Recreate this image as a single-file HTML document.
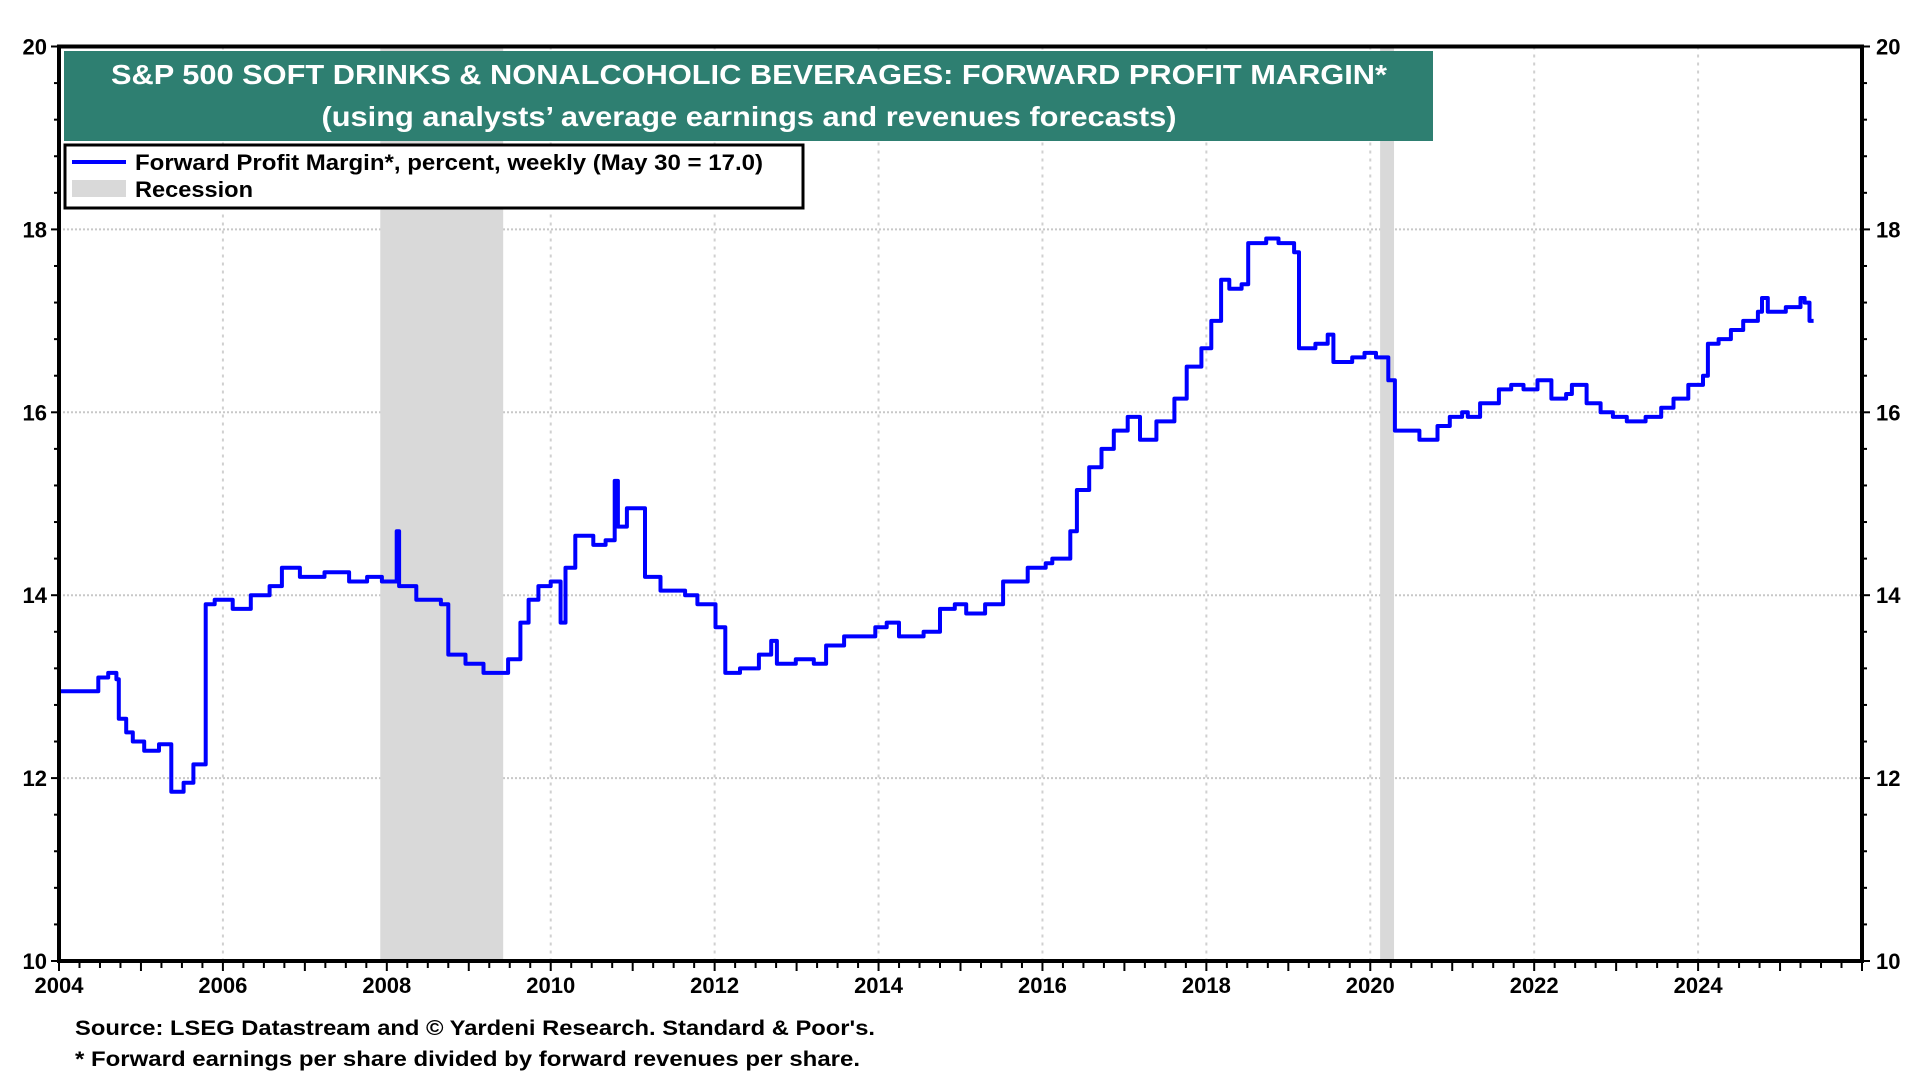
<!DOCTYPE html>
<html><head><meta charset="utf-8"><style>
html,body{margin:0;padding:0;background:#fff;}
svg{display:block;font-family:"Liberation Sans Narrow","Liberation Sans",sans-serif;font-weight:bold;}
</style></head><body>
<svg id="chart" width="1920" height="1080" xmlns="http://www.w3.org/2000/svg">
<g id="grid"></g>
<g id="rec"></g>
<g id="series"></g>
<g id="axes"></g>
<g>
<rect x="64" y="51" width="1369" height="90" fill="#2e7f71"/>
<text x="749" y="84" text-anchor="middle" fill="#fff" font-size="28" textLength="1276" lengthAdjust="spacingAndGlyphs">S&amp;P 500 SOFT DRINKS &amp; NONALCOHOLIC BEVERAGES: FORWARD PROFIT MARGIN*</text>
<text x="749" y="126" text-anchor="middle" fill="#fff" font-size="28" textLength="855" lengthAdjust="spacingAndGlyphs">(using analysts’ average earnings and revenues forecasts)</text>
</g>
<g>
<rect x="65" y="145" width="738" height="63" fill="#fff" stroke="#000" stroke-width="3"/>
<line x1="72" y1="162" x2="126" y2="162" stroke="#0000ff" stroke-width="4"/>
<text x="135" y="170" font-size="22" textLength="628" lengthAdjust="spacingAndGlyphs">Forward Profit Margin*, percent, weekly (May 30 = 17.0)</text>
<rect x="72" y="180" width="54" height="17" fill="#d9d9d9"/>
<text x="135" y="197" font-size="22" textLength="118" lengthAdjust="spacingAndGlyphs">Recession</text>
</g>
<text x="75" y="1035" font-size="21" textLength="800" lengthAdjust="spacingAndGlyphs">Source: LSEG Datastream and © Yardeni Research. Standard &amp; Poor's.</text>
<text x="75" y="1066" font-size="21" textLength="785" lengthAdjust="spacingAndGlyphs">* Forward earnings per share divided by forward revenues per share.</text>
</svg>
<script>
const years=[2004.0,2004.06,2004.48,2004.60,2004.70,2004.73,2004.82,2004.90,2005.04,2005.22,2005.34,2005.37,2005.52,2005.64,2005.78,2005.79,2005.90,2006.12,2006.34,2006.57,2006.72,2006.94,2007.24,2007.54,2007.76,2007.94,2008.12,2008.15,2008.36,2008.66,2008.75,2008.96,2009.18,2009.48,2009.63,2009.73,2009.85,2010.00,2010.12,2010.18,2010.30,2010.52,2010.67,2010.78,2010.82,2010.93,2011.01,2011.15,2011.34,2011.64,2011.79,2012.01,2012.13,2012.31,2012.54,2012.69,2012.76,2012.99,2013.21,2013.36,2013.58,2013.96,2014.10,2014.25,2014.55,2014.75,2014.93,2015.07,2015.30,2015.52,2015.82,2016.04,2016.12,2016.34,2016.42,2016.57,2016.72,2016.87,2017.04,2017.19,2017.39,2017.61,2017.76,2017.94,2018.06,2018.18,2018.28,2018.43,2018.51,2018.73,2018.88,2019.07,2019.13,2019.33,2019.48,2019.55,2019.78,2019.93,2020.07,2020.22,2020.30,2020.52,2020.60,2020.82,2020.97,2021.12,2021.19,2021.34,2021.57,2021.72,2021.87,2022.04,2022.21,2022.39,2022.46,2022.64,2022.81,2022.96,2023.13,2023.36,2023.55,2023.70,2023.88,2024.06,2024.12,2024.25,2024.40,2024.55,2024.73,2024.78,2024.85,2025.07,2025.25,2025.30,2025.36,2025.41];
const values=[12.95,12.95,13.1,13.15,13.08,12.65,12.5,12.4,12.3,12.37,12.37,11.85,11.95,12.15,12.15,13.9,13.95,13.85,14.0,14.1,14.3,14.2,14.25,14.15,14.2,14.15,14.7,14.1,13.95,13.9,13.35,13.25,13.15,13.3,13.7,13.95,14.1,14.15,13.7,14.3,14.65,14.55,14.6,15.25,14.75,14.95,14.95,14.2,14.05,14.0,13.9,13.65,13.15,13.2,13.35,13.5,13.25,13.3,13.25,13.45,13.55,13.65,13.7,13.55,13.6,13.85,13.9,13.8,13.9,14.15,14.3,14.35,14.4,14.7,15.15,15.4,15.6,15.8,15.95,15.7,15.9,16.15,16.5,16.7,17.0,17.45,17.35,17.4,17.85,17.9,17.85,17.75,16.7,16.75,16.85,16.55,16.6,16.65,16.6,16.35,15.8,15.8,15.7,15.85,15.95,16.0,15.95,16.1,16.25,16.3,16.25,16.35,16.15,16.2,16.3,16.1,16.0,15.95,15.9,15.95,16.05,16.15,16.3,16.4,16.75,16.8,16.9,17.0,17.1,17.25,17.1,17.15,17.25,17.2,17.0,17.0];
const recStart=[2007.92,2020.12];
const recEnd=[2009.42,2020.29];
const yTicks=[10,12,14,16,18,20];
const xTicks=[2004,2006,2008,2010,2012,2014,2016,2018,2020,2022,2024];
const L=59,R=1862,T=46.5,B=961,X0=2004,X1=2026,Y0=10,Y1=20;
const xs=v=>L+(v-X0)/(X1-X0)*(R-L);
const ys=v=>B-(v-Y0)/(Y1-Y0)*(B-T);
const NS="http://www.w3.org/2000/svg";
function mk(parent,tag,attrs){const e=document.createElementNS(NS,tag);for(const k in attrs)e.setAttribute(k,attrs[k]);document.getElementById(parent).appendChild(e);return e;}
for(const t of yTicks){if(t===Y0||t===Y1)continue;
const g=mk('grid','line',{x1:L,x2:R,y1:ys(t),y2:ys(t),stroke:'#c8c8c8','stroke-width':2,'stroke-dasharray':'2,2'});

}
for(const t of xTicks){if(t===X0)continue;
const g=mk('grid','line',{x1:xs(t),x2:xs(t),y1:T,y2:B,stroke:'#d0d0d0','stroke-width':2,'stroke-dasharray':'3,5'});

}
for(let i=0;i<recStart.length;i++){
const r=mk('rec','rect',{x:xs(recStart[i]),y:T,width:xs(recEnd[i])-xs(recStart[i]),height:B-T,fill:'#d9d9d9'});

}
let d='';
for(let i=0;i<years.length;i++){
const x=xs(years[i]).toFixed(1),y=ys(values[i]).toFixed(1);
if(i===0)d+='M'+x+','+y;else d+='H'+x+'V'+y;}
const p=mk('series','path',{d:d,fill:'none',stroke:'#0000ff','stroke-width':4,'stroke-linejoin':'round'});


const f=mk('axes','rect',{x:L,y:T,width:R-L,height:B-T,fill:'none',stroke:'#000','stroke-width':4});


for(let v=Y0;v<=Y1+0.001;v+=0.4){
const len=Math.abs(v-Math.round(v/2)*2)<0.01?8:5;
mk('axes','line',{x1:L-len,x2:L,y1:ys(v),y2:ys(v),stroke:'#000','stroke-width':2});
mk('axes','line',{x1:R,x2:R+len,y1:ys(v),y2:ys(v),stroke:'#000','stroke-width':2});}
for(let v=X0;v<=X1;v+=0.25){
mk('axes','line',{x1:xs(v),x2:xs(v),y1:B,y2:B+(Math.abs(v-Math.round(v))<0.01?10:7),stroke:'#000','stroke-width':2});}
for(const t of yTicks){
const a=mk('axes','text',{x:L-12,y:ys(t)+8,'text-anchor':'end','font-size':22});a.textContent=t;


const b=mk('axes','text',{x:R+14,y:ys(t)+8,'text-anchor':'start','font-size':22});b.textContent=t;

}
for(const t of xTicks){
const a=mk('axes','text',{x:xs(t),y:993,'text-anchor':'middle','font-size':22});a.textContent=t;

}
</script>
</body></html>
